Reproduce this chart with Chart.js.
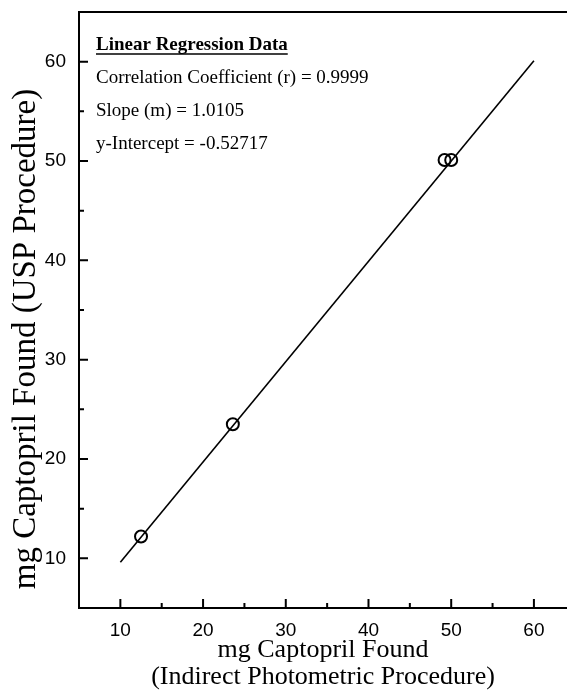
<!DOCTYPE html>
<html>
<head>
<meta charset="utf-8">
<script src="https://cdn.jsdelivr.net/npm/chart.js@4/dist/chart.umd.min.js"></script>
<style>
  html, body { margin: 0; padding: 0; background: #fff; overflow: hidden; }
  canvas { display: block; }
</style>
</head>
<body>
<canvas id="regChart" width="567" height="695"></canvas>
<script>
// valeurs
const usvX = [12.5, 23.6, 49.2, 50.0];         // procédure photométrique indirecte
const uspY = [12.2, 23.5, 50.1, 50.1];         // procédure USP
const fitX = [10, 60];                         // extrémités de la droite de régression
const fitY = [9.6, 60.1];

const xMajorTicks = [10, 20, 30, 40, 50, 60];
const xMinorTicks = [15, 25, 35, 45, 55];
const yMajorTicks = [10, 20, 30, 40, 50, 60];
const yMinorTicks = [15, 25, 35, 45, 55];

const xTitle = ['mg Captopril Found', '(Indirect Photometric Procedure)'];
const yTitle = 'mg Captopril Found (USP Procedure)';
const noteHeader = 'Linear Regression Data';
const noteLines = [
  'Correlation Coefficient (r) = 0.9999',
  'Slope (m) = 1.0105',
  'y-Intercept = -0.52717'
];

const serif = '"Liberation Serif", "Times New Roman", serif';
const sans = '"Liberation Sans", Arial, sans-serif';

// pas de marge automatique autour de la zone de tracé
function noPadding(scale) {
  scale.paddingTop = 0;
  scale.paddingBottom = 0;
  scale.paddingLeft = 0;
  scale.paddingRight = 0;
}

// axes + graduations vers l'intérieur + titre Y + texte de régression
const framePlugin = {
  id: 'frame',
  afterDraw(chart) {
    const ctx = chart.ctx;
    const area = chart.chartArea;
    const xs = chart.scales.x, ys = chart.scales.y;
    ctx.save();
    ctx.strokeStyle = '#000';
    ctx.lineWidth = 2;
    ctx.beginPath();
    ctx.moveTo(area.right, area.top);
    ctx.lineTo(area.left, area.top);
    ctx.lineTo(area.left, area.bottom);
    ctx.lineTo(area.right, area.bottom);
    ctx.stroke();

    ctx.beginPath();
    xMajorTicks.forEach(v => { const p = xs.getPixelForValue(v); ctx.moveTo(p, area.bottom); ctx.lineTo(p, area.bottom - 9); });
    xMinorTicks.forEach(v => { const p = xs.getPixelForValue(v); ctx.moveTo(p, area.bottom); ctx.lineTo(p, area.bottom - 5); });
    yMajorTicks.forEach(v => { const p = ys.getPixelForValue(v); ctx.moveTo(area.left, p); ctx.lineTo(area.left + 9, p); });
    yMinorTicks.forEach(v => { const p = ys.getPixelForValue(v); ctx.moveTo(area.left, p); ctx.lineTo(area.left + 5, p); });
    ctx.stroke();

    ctx.fillStyle = '#000';

    // titre de l'axe Y (légèrement sous le centre, comme l'original)
    ctx.save();
    ctx.translate(26, 339);
    ctx.rotate(-Math.PI / 2);
    ctx.textAlign = 'center';
    ctx.textBaseline = 'middle';
    ctx.font = '33px ' + serif;
    ctx.fillText(yTitle, 0, 0);
    ctx.restore();

    // bloc de texte
    const tx = area.left + 17;
    ctx.textBaseline = 'middle';
    ctx.font = 'bold 19px ' + serif;
    ctx.fillText(noteHeader, tx, area.top + 33);
    const w = ctx.measureText(noteHeader).width;
    ctx.lineWidth = 1.4;
    ctx.beginPath();
    ctx.moveTo(tx, area.top + 42);
    ctx.lineTo(tx + w, area.top + 42);
    ctx.stroke();
    ctx.font = '19px ' + serif;
    noteLines.forEach((t, i) => ctx.fillText(t, tx, area.top + 66 + i * 33));
    ctx.restore();
  }
};

const ctx = document.getElementById('regChart').getContext('2d');
new Chart(ctx, {
  type: 'scatter',
  data: {
    datasets: [
      {
        label: 'Régression',
        data: fitX.map((x, i) => ({ x: x, y: fitY[i] })),
        showLine: true,
        borderColor: '#000',
        borderWidth: 1.6,
        pointRadius: 0,
        order: 2
      },
      {
        label: 'Échantillons',
        data: usvX.map((x, i) => ({ x: x, y: uspY[i] })),
        pointStyle: 'circle',
        pointRadius: 6,
        borderColor: '#000',
        borderWidth: 2,
        backgroundColor: 'rgba(0,0,0,0)',
        order: 1
      }
    ]
  },
  options: {
    responsive: false,
    animation: false,
    layout: { autoPadding: false, padding: { top: 12, right: 0, left: 0, bottom: 0 } },
    plugins: {
      legend: { display: false },
      tooltip: { enabled: false }
    },
    scales: {
      x: {
        type: 'linear',
        min: 5,
        max: 64,
        afterBuildTicks: axis => { axis.ticks = xMajorTicks.map(v => ({ value: v })); },
        afterFit: scale => { scale.height = 87; noPadding(scale); },
        grid: { display: false, drawTicks: false },
        border: { display: false },
        ticks: { color: '#000', font: { family: sans, size: 19 }, padding: 11, maxRotation: 0 },
        title: {
          display: true,
          text: xTitle,
          color: '#000',
          font: { family: serif, size: 26, lineHeight: '27px' },
          padding: { top: 0, bottom: 4 }
        }
      },
      y: {
        type: 'linear',
        min: 5,
        max: 65,
        afterBuildTicks: axis => { axis.ticks = yMajorTicks.map(v => ({ value: v })); },
        afterFit: scale => { scale.width = 79; noPadding(scale); },
        grid: { display: false, drawTicks: false },
        border: { display: false },
        ticks: { color: '#000', font: { family: sans, size: 19 }, padding: 13 }
      }
    }
  },
  plugins: [framePlugin]
});
</script>
</body>
</html>
